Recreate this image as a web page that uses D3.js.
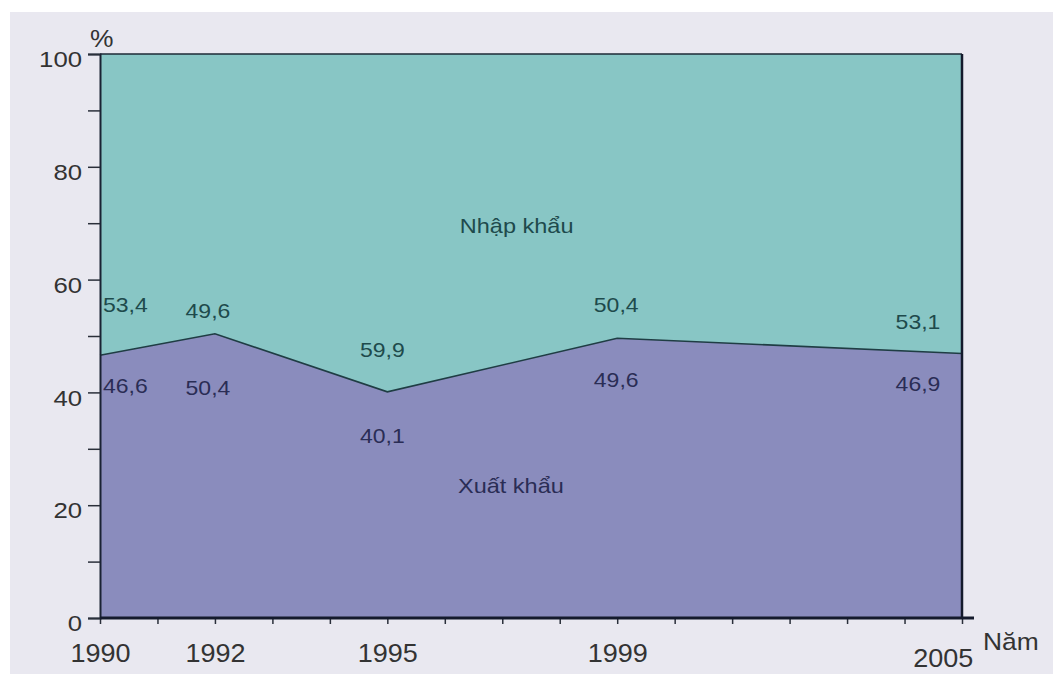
<!DOCTYPE html>
<html>
<head>
<meta charset="utf-8">
<script src="https://cdn.jsdelivr.net/npm/d3@7"></script>
<style>
  html, body { margin: 0; padding: 0; background: #ffffff; }
  svg { display: block; font-family: "Liberation Sans", Arial, sans-serif; }
</style>
</head>
<body>
<svg id="chart" width="1061" height="677"></svg>
<script>
// Cơ cấu giá trị xuất, nhập khẩu (%)
const years = [1990, 1992, 1995, 1999, 2005];
const exportShare = [46.6, 50.4, 40.1, 49.6, 46.9];   // Xuất khẩu
const importShare = [53.4, 49.6, 59.9, 50.4, 53.1];   // Nhập khẩu
const yTicks = [0, 10, 20, 30, 40, 50, 60, 70, 80, 90, 100];
const yTickLabels = ["0", "", "20", "", "40", "", "60", "", "80", "", "100"];
const seriesNames = ["Xuất khẩu", "Nhập khẩu"];
const yUnit = "%";
const xUnit = "Năm";

(function draw() {
  const svg = d3.select("#chart");

  // light panel behind the chart
  svg.append("rect").attr("x", 10).attr("y", 12).attr("width", 1043).attr("height", 662)
    .attr("fill", "#e9e8f0");

  const plotL = 100, plotR = 962, plotT = 54, plotB = 618;
  const x = d3.scaleLinear().domain([1990, 2005]).range([plotL, plotR]);
  const y = d3.scaleLinear().domain([0, 100]).range([plotB, plotT]);

  const rows = years.map((yr, i) => ({ year: yr, exp: exportShare[i], imp: importShare[i] }));

  // Nhập khẩu band: from export line up to 100
  svg.append("path")
    .datum(rows)
    .attr("fill", "#88c6c5")
    .attr("d", d3.area().x(d => x(d.year)).y0(d => y(d.exp)).y1(d => y(d.exp + d.imp)));

  // Xuất khẩu band: from 0 up to the export line
  svg.append("path")
    .datum(rows)
    .attr("fill", "#8a8cbd")
    .attr("d", d3.area().x(d => x(d.year)).y0(y(0)).y1(d => y(d.exp)));

  // boundary line
  svg.append("path")
    .datum(rows)
    .attr("fill", "none")
    .attr("stroke", "#1f3d44")
    .attr("stroke-width", 1.6)
    .attr("d", d3.line().x(d => x(d.year)).y(d => y(d.exp)));

  // frame: top and right edges
  svg.append("line").attr("x1", plotL).attr("x2", plotR).attr("y1", plotT).attr("y2", plotT)
    .attr("stroke", "#1d2a36").attr("stroke-width", 1.5);
  svg.append("line").attr("x1", plotR).attr("x2", plotR).attr("y1", plotT).attr("y2", plotB)
    .attr("stroke", "#141a2c").attr("stroke-width", 2.5);

  // y axis
  const yAxis = d3.axisLeft(y)
    .tickValues(yTicks)
    .tickSize(12)
    .tickPadding(4)
    .tickFormat((d, i) => yTickLabels[i]);
  const gy = svg.append("g").attr("transform", `translate(${plotL},0)`).call(yAxis);
  gy.select(".domain").attr("stroke", "#1a2233").attr("stroke-width", 2);
  gy.selectAll(".tick line").attr("stroke", "#2a2f3a").attr("stroke-width", 1.5);
  gy.selectAll(".tick text")
    .attr("fill", "#333333")
    .attr("font-size", 23)
    .attr("x", -16)
    .attr("dy", "0.55em")
    .attr("transform", "scale(1.12,1)")
    .attr("font-family", "Liberation Sans, Arial, sans-serif");

  // x axis: a tick every year, labels on the surveyed years
  const xAxis = d3.axisBottom(x)
    .tickValues(d3.range(1990, 2006))
    .tickSize(6)
    .tickPadding(14)
    .tickFormat(d => years.includes(d) ? String(d) : "");
  const gx = svg.append("g").attr("transform", `translate(0,${plotB})`).call(xAxis);
  gx.select(".domain").remove();
  gx.append("line").attr("x1", plotL).attr("x2", plotR + 12).attr("y1", 0).attr("y2", 0)
    .attr("stroke", "#141a2c").attr("stroke-width", 3);
  gx.selectAll(".tick line").attr("stroke", "#2a2f3a").attr("stroke-width", 1.5);
  gx.selectAll(".tick text")
    .attr("fill", "#333333")
    .attr("font-size", 25)
    .attr("font-family", "Liberation Sans, Arial, sans-serif")
    .attr("transform", "scale(1.08,1)");
  gx.selectAll(".tick").filter(d => d === 2005).select("text")
    .attr("text-anchor", "end").attr("x", 10).attr("dy", "1.18em");
  gx.selectAll(".tick").filter(d => d !== 2005).select("text").attr("dy", "0.98em");

  // unit captions
  svg.append("text").attr("transform", "translate(90,47) scale(1.1,1)")
    .attr("font-size", 24).attr("fill", "#333").text(yUnit);
  svg.append("text").attr("transform", "translate(983,650) scale(1.1,1)")
    .attr("font-size", 24).attr("fill", "#333").text(xUnit);

  // value labels: offsets from the boundary point, Nhập khẩu above and Xuất khẩu below
  const labelLayout = [
    { anchor: "start",  dx: 3,   upDy: -43, downDy: 38 },
    { anchor: "middle", dx: -7,  upDy: -16, downDy: 61 },
    { anchor: "middle", dx: -5,  upDy: -35, downDy: 51 },
    { anchor: "middle", dx: -1,  upDy: -26, downDy: 49 },
    { anchor: "middle", dx: -44, upDy: -24, downDy: 38 }
  ];
  const fmt = v => v.toFixed(1).replace(".", ",");
  function placeText(g, px, py, anchor, str, size, color, sx) {
    g.append("text")
      .attr("transform", `translate(${px},${py}) scale(${sx},1)`)
      .attr("text-anchor", anchor)
      .attr("font-size", size)
      .attr("fill", color)
      .text(str);
  }
  const gl = svg.append("g");
  rows.forEach((d, i) => {
    const L = labelLayout[i];
    const px = x(d.year) + L.dx, py = y(d.exp);
    placeText(gl, px, py + L.upDy, L.anchor, fmt(d.imp), 20, "#1e4a4c", 1.15);
    placeText(gl, px, py + L.downDy, L.anchor, fmt(d.exp), 20, "#2a2d55", 1.15);
  });

  // series names inside their bands
  placeText(gl, x(1997.25), y(68.2), "middle", seriesNames[1], 21, "#1e4a4c", 1.12);
  placeText(gl, x(1997.15), y(22.2), "middle", seriesNames[0], 21, "#2a2d55", 1.12);
})();
</script>
</body>
</html>
